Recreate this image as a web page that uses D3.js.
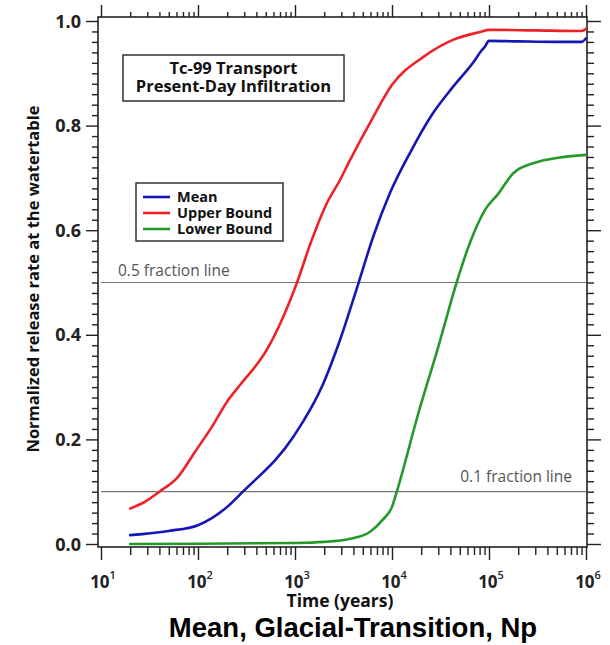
<!DOCTYPE html>
<html>
<head>
<meta charset="utf-8">
<script src="https://cdn.jsdelivr.net/npm/d3@7/dist/d3.min.js"></script>
<style>
  html, body { margin: 0; padding: 0; background: #fff; }
  svg { display: block; }
</style>
</head>
<body>
<svg id="chart" width="610" height="645"></svg>
<script>
// Time (years) at which release rates are sampled, per series
const meanTimes  = [20, 50, 100, 200, 290, 962, 1960, 2910, 4500, 6410, 9530, 15350, 26500, 42500, 68400, 85000, 90000, 100000, 200000, 500000, 900000, 1000000];
const meanValues = [0.017, 0.025, 0.036, 0.071, 0.100, 0.205, 0.307, 0.390, 0.498, 0.588, 0.671, 0.748, 0.824, 0.874, 0.920, 0.945, 0.950, 0.962, 0.961, 0.960, 0.960, 0.967];

const upperTimes  = [20, 28, 40, 62, 93, 139, 204, 271, 511, 759, 1040, 1486, 2122, 2910, 3690, 6170, 10000, 20900, 42500, 80700, 100000, 300000, 900000, 1000000];
const upperValues = [0.068, 0.080, 0.100, 0.128, 0.176, 0.224, 0.275, 0.304, 0.371, 0.435, 0.498, 0.581, 0.651, 0.696, 0.734, 0.811, 0.878, 0.931, 0.964, 0.979, 0.983, 0.982, 0.981, 0.985];

const lowerTimes  = [20, 100, 1000, 2000, 3700, 5900, 8000, 10000, 11200, 18700, 30000, 46400, 61300, 91000, 125000, 178000, 310000, 500000, 1000000];
const lowerValues = [0.000, 0.0005, 0.002, 0.004, 0.010, 0.023, 0.046, 0.071, 0.100, 0.250, 0.377, 0.500, 0.568, 0.639, 0.670, 0.709, 0.730, 0.738, 0.744];

const seriesNames = ["Mean", "Upper Bound", "Lower Bound"];
const seriesColors = ["#1616b4", "#ee2226", "#24992a"];

const fractionLines = [0.5, 0.1];
const fractionLabels = ["0.5 fraction line", "0.1 fraction line"];

const xDecades = [1, 2, 3, 4, 5, 6];
const yMajorTicks = [0.0, 0.2, 0.4, 0.6, 0.8, 1.0];

const titleLines = ["Tc-99 Transport", "Present-Day Infiltration"];
const xTitle = "Time (years)";
const yTitle = "Normalized release rate at the watertable";
const caption = "Mean, Glacial-Transition, Np";

const svg = d3.select("#chart");

// frame of the plot area
const frame = { left: 98, right: 587, top: 17, bottom: 547 };

const x = d3.scaleLog().domain([10, 1e6]).range([101, 586]);
const y = d3.scaleLinear().domain([0, 1]).range([544, 21]);

const tickFont = "'Open Sans', 'DejaVu Sans', sans-serif";

// minor/major tick values
const xMinor = [];
for (let d = 1; d < 6; d++) for (let m = 2; m <= 9; m++) xMinor.push(m * Math.pow(10, d));
const xMajor = xDecades.map(p => Math.pow(10, p));
const yMinor = d3.range(0, 51).map(i => i / 50).filter(v => Math.round(v * 50) % 10 !== 0);

const axisColor = "#222";

// bottom axis (ticks pointing down)
const axBottom = svg.append("g").attr("transform", `translate(0,${frame.bottom})`);
axBottom.call(d3.axisBottom(x).tickValues(xMinor).tickSize(8).tickFormat(""));
axBottom.append("g").call(d3.axisBottom(x).tickValues(xMajor).tickSize(13).tickFormat(""));
// top axis (ticks pointing up)
const axTop = svg.append("g").attr("transform", `translate(0,${frame.top})`);
axTop.call(d3.axisTop(x).tickValues(xMinor).tickSize(5).tickFormat(""));
axTop.append("g").call(d3.axisTop(x).tickValues(xMajor).tickSize(12).tickFormat(""));
// left axis
const axLeft = svg.append("g").attr("transform", `translate(${frame.left},0)`);
axLeft.call(d3.axisLeft(y).tickValues(yMinor).tickSize(6).tickFormat(""));
axLeft.append("g").call(d3.axisLeft(y).tickValues(yMajorTicks).tickSize(12).tickFormat(""));
// right axis
const axRight = svg.append("g").attr("transform", `translate(${frame.right},0)`);
axRight.call(d3.axisRight(y).tickValues(yMinor).tickSize(7).tickFormat(""));
axRight.append("g").call(d3.axisRight(y).tickValues(yMajorTicks).tickSize(14).tickFormat(""));

svg.selectAll(".domain").remove();
svg.selectAll(".tick line").attr("stroke", axisColor).attr("stroke-width", 1.4);

// plot frame
svg.append("rect")
  .attr("x", frame.left).attr("y", frame.top)
  .attr("width", frame.right - frame.left).attr("height", frame.bottom - frame.top)
  .attr("fill", "none").attr("stroke", axisColor).attr("stroke-width", 1.6);

// y tick labels
svg.append("g").selectAll("text").data(yMajorTicks).join("text")
  .attr("x", 81).attr("y", d => y(d) + 6.5)
  .attr("text-anchor", "end")
  .attr("font-family", tickFont).attr("font-weight", 700).attr("font-size", 18)
  .attr("fill", "#222")
  .text(d => d.toFixed(1));

// x tick labels: 10 with a superscript exponent
const xl = svg.append("g").selectAll("text").data(xDecades).join("text")
  .attr("x", d => x(Math.pow(10, d)) + 2).attr("y", 588)
  .attr("text-anchor", "middle")
  .attr("font-family", tickFont).attr("font-weight", 700).attr("font-size", 17)
  .attr("fill", "#222");
xl.append("tspan").text("10");
xl.append("tspan").attr("dy", -9).attr("font-size", 11).attr("font-weight", 600).text(d => d);

// fraction reference lines
svg.append("g").selectAll("line").data(fractionLines).join("line")
  .attr("x1", x(10)).attr("x2", x(1e6))
  .attr("y1", d => y(d)).attr("y2", d => y(d))
  .attr("stroke", "#777").attr("stroke-width", 1.2);

svg.append("text")
  .attr("x", 118).attr("y", y(fractionLines[0]) - 7)
  .attr("font-family", tickFont).attr("font-size", 15.5).attr("fill", "#555")
  .text(fractionLabels[0]);
svg.append("text")
  .attr("x", 572).attr("y", y(fractionLines[1]) - 10)
  .attr("text-anchor", "end")
  .attr("font-family", tickFont).attr("font-size", 15.5).attr("fill", "#555")
  .text(fractionLabels[1]);

// data curves
const series = [
  { t: meanTimes,  v: meanValues },
  { t: upperTimes, v: upperValues },
  { t: lowerTimes, v: lowerValues }
];
const line = d3.line()
  .x(d => x(d[0])).y(d => y(d[1]))
  .curve(d3.curveMonotoneX);

svg.append("g").selectAll("path").data(series).join("path")
  .attr("d", s => line(s.t.map((t, i) => [t, s.v[i]])))
  .attr("fill", "none")
  .attr("stroke", (s, i) => seriesColors[i])
  .attr("stroke-width", 2.6)
  .attr("stroke-linejoin", "round")
  .attr("stroke-linecap", "round");

// title box
svg.append("rect")
  .attr("x", 123).attr("y", 55).attr("width", 221).attr("height", 46)
  .attr("fill", "#fff").attr("stroke", "#333").attr("stroke-width", 1.5);
svg.append("g").selectAll("text").data(titleLines).join("text")
  .attr("x", 233.5).attr("y", (d, i) => 73.5 + i * 18.5)
  .attr("text-anchor", "middle")
  .attr("font-family", tickFont).attr("font-weight", 700).attr("font-size", 16.5)
  .attr("fill", "#111")
  .text(d => d);

// legend
const legend = svg.append("g");
legend.append("rect")
  .attr("x", 136).attr("y", 183).attr("width", 147).attr("height", 58)
  .attr("fill", "#fff").attr("stroke", "#333").attr("stroke-width", 1.5);
const items = legend.selectAll("g.item").data(seriesNames).join("g")
  .attr("class", "item")
  .attr("transform", (d, i) => `translate(0,${197 + i * 16})`);
items.append("line")
  .attr("x1", 143).attr("x2", 170).attr("y1", 0).attr("y2", 0)
  .attr("stroke", (d, i) => seriesColors[i]).attr("stroke-width", 2.6);
items.append("text")
  .attr("x", 177).attr("y", 5)
  .attr("font-family", tickFont).attr("font-weight", 700).attr("font-size", 14.5)
  .attr("fill", "#111")
  .text(d => d);

// axis titles
svg.append("text")
  .attr("x", 340).attr("y", 607)
  .attr("text-anchor", "middle")
  .attr("font-family", tickFont).attr("font-weight", 700).attr("font-size", 17.5)
  .attr("fill", "#111")
  .text(xTitle);

svg.append("text")
  .attr("transform", "translate(39,279) rotate(-90)")
  .attr("text-anchor", "middle")
  .attr("font-family", tickFont).attr("font-weight", 700).attr("font-size", 16.5)
  .attr("fill", "#111")
  .text(yTitle);

// caption
svg.append("text")
  .attr("x", 353).attr("y", 637)
  .attr("text-anchor", "middle")
  .attr("font-family", "'Liberation Sans', Arial, sans-serif").attr("font-weight", 700).attr("font-size", 27.5)
  .attr("fill", "#000")
  .text(caption);
</script>
</body>
</html>
